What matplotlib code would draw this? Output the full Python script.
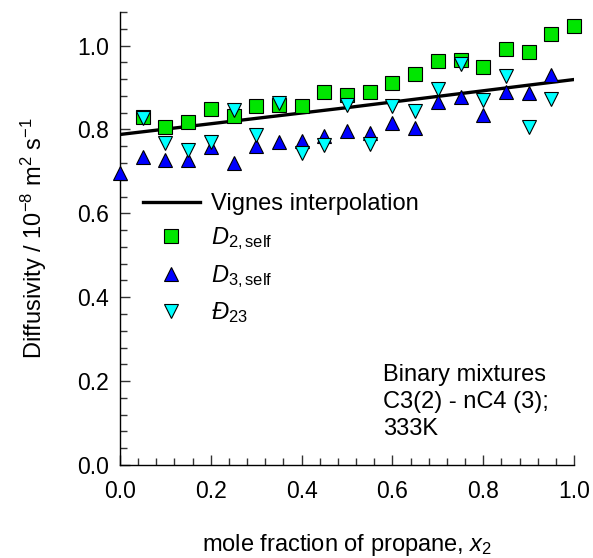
import matplotlib
matplotlib.use("Agg")
import matplotlib.pyplot as plt
from matplotlib.ticker import MultipleLocator

plt.rcParams['font.family'] = ['Liberation Sans', 'DejaVu Sans']
plt.rcParams['mathtext.fontset'] = 'custom'
plt.rcParams['mathtext.rm'] = 'Liberation Sans'
plt.rcParams['mathtext.it'] = 'Liberation Sans:italic'
plt.rcParams['mathtext.bf'] = 'Liberation Sans:bold'

# ---- data ----
x_d2 = [0.05, 0.10, 0.15, 0.20, 0.25, 0.30, 0.35, 0.40, 0.45, 0.50,
        0.55, 0.60, 0.65, 0.70, 0.75, 0.80, 0.85, 0.90, 0.95, 1.00]
d2_self = [0.830, 0.806, 0.817, 0.849, 0.833, 0.856, 0.858, 0.857, 0.889, 0.883,
           0.889, 0.911, 0.932, 0.964, 0.965, 0.948, 0.992, 0.985, 1.028, 1.046]

x_d3 = [0.00, 0.05, 0.10, 0.15, 0.20, 0.25, 0.30, 0.35, 0.40, 0.45,
        0.50, 0.55, 0.60, 0.65, 0.70, 0.75, 0.80, 0.85, 0.90, 0.95]
d3_self = [0.696, 0.734, 0.728, 0.728, 0.758, 0.720, 0.760, 0.770, 0.772, 0.785,
           0.796, 0.792, 0.815, 0.804, 0.866, 0.878, 0.835, 0.890, 0.887, 0.929]

x_d23 = [0.05, 0.10, 0.15, 0.20, 0.25, 0.30, 0.35, 0.40, 0.45, 0.50,
         0.55, 0.60, 0.65, 0.70, 0.75, 0.80, 0.85, 0.90, 0.95]
d23 = [0.827, 0.768, 0.752, 0.771, 0.846, 0.787, 0.863, 0.745, 0.764, 0.858,
       0.766, 0.855, 0.845, 0.897, 0.955, 0.870, 0.928, 0.807, 0.873]

x_vignes = [0.0, 0.5, 1.0]
d_vignes = [0.788, 0.852, 0.919]

x_ticks = [0.0, 0.2, 0.4, 0.6, 0.8, 1.0]
y_ticks = [0.0, 0.2, 0.4, 0.6, 0.8, 1.0]

# ---- figure ----
fig = plt.figure(figsize=(5.93, 5.58), dpi=100)
ax = fig.add_axes([120/593, 1-465/558, 454/593, 453/558])

ax.plot(x_vignes, d_vignes, color='black', lw=2.4, label='Vignes interpolation', zorder=2)
ax.plot(x_d2, d2_self, ls='none', marker='s', ms=10, mfc='#00e600', mec='black', mew=0.8,
        label=r'$D_{\mathrm{2,self}}$', clip_on=False, zorder=3)
ax.plot(x_d3, d3_self, ls='none', marker='^', ms=10, mfc='#0000ff', mec='black', mew=0.8,
        label=r'$D_{\mathrm{3,self}}$', clip_on=False, zorder=3)
ax.plot(x_d23, d23, ls='none', marker='v', ms=10, mfc='#00ffff', mec='black', mew=0.8,
        label=r'$Đ_{\mathrm{23}}$', clip_on=False, zorder=4)

ax.set_xlim(0, 1.0)
ax.set_ylim(0, 1.08)
ax.set_xticks(x_ticks)
ax.set_yticks(y_ticks)
ax.set_xticklabels([f"{v:.1f}" for v in x_ticks])
ax.set_yticklabels([f"{v:.1f}" for v in y_ticks])
ax.xaxis.set_minor_locator(MultipleLocator(0.04))
ax.yaxis.set_minor_locator(MultipleLocator(0.04))
ax.tick_params(which='both', direction='in', width=1, color='#333333', labelsize=16.5)
ax.tick_params(which='major', length=7)
ax.tick_params(which='minor', length=5)
ax.tick_params(axis='x', pad=11)
ax.tick_params(axis='y', pad=8)

for s in ['top', 'right']:
    ax.spines[s].set_visible(False)
for s in ['left', 'bottom']:
    ax.spines[s].set_linewidth(1.0)

ax.set_xlabel(r'mole fraction of propane, $x_2$', fontsize=17, labelpad=21)
ax.set_ylabel(r'Diffusivity / 10$^{\mathrm{-8}}$ m$^2$ s$^{\mathrm{-1}}$', fontsize=17, labelpad=20)

ax.text(0.579, 0.241, 'Binary mixtures\nC3(2) - nC4 (3);\n333K', fontsize=17,
        va='top', ha='left', transform=ax.transData, linespacing=1.3)

leg = ax.legend(loc='upper left', bbox_to_anchor=(143/593, 1-193/558),
                bbox_transform=fig.transFigure, frameon=False, fontsize=17,
                borderpad=0, borderaxespad=0, handlelength=2.4, handletextpad=0.5,
                labelspacing=0.45)

fig.savefig('out.png', dpi=100)
